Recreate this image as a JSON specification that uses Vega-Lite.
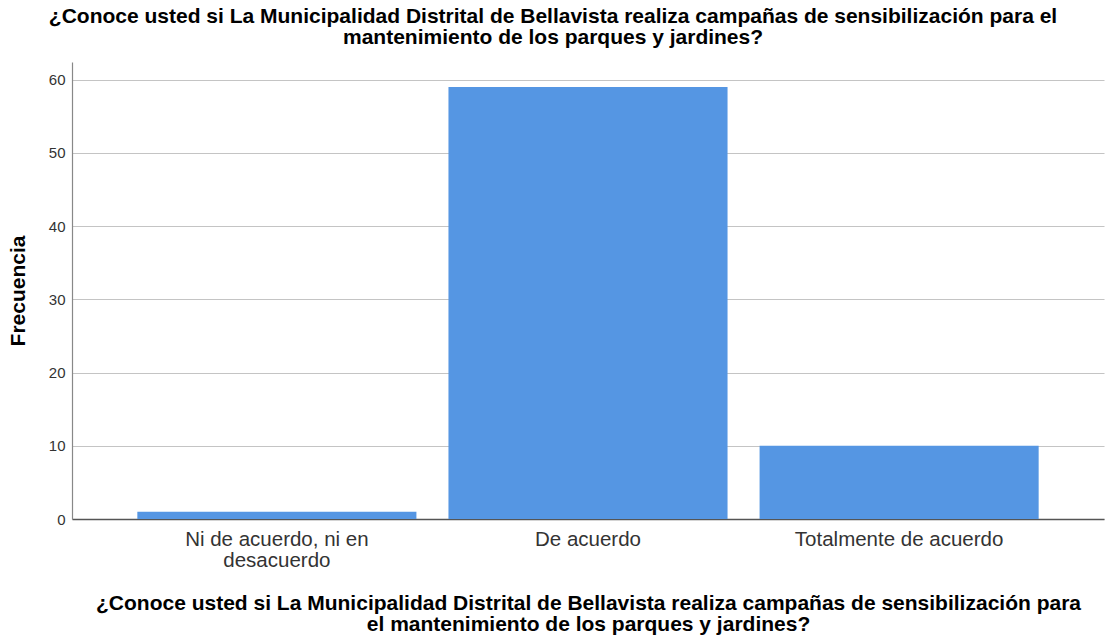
{
  "$schema": "https://vega.github.io/schema/vega-lite/v6.json",
  "width": 1032,
  "height": 457,
  "autosize": {"type": "none"},
  "padding": {"left": 72, "top": 62, "right": 2, "bottom": 120},
  "background": "white",
  "config": {"view": {"stroke": null}, "font": "Liberation Sans"},
  "title": {
    "text": ["¿Conoce usted si La Municipalidad  Distrital de Bellavista realiza campañas de sensibilización para el", "mantenimiento de los parques y jardines?"],
    "fontSize": 21,
    "fontWeight": "bold",
    "color": "#000000",
    "anchor": "middle",
    "dx": -35,
    "offset": 14,
    "lineHeight": 21
  },
  "data": {
    "values": [
      {"respuesta": "Ni de acuerdo, ni en desacuerdo", "frecuencia": 1},
      {"respuesta": "De acuerdo", "frecuencia": 59},
      {"respuesta": "Totalmente de acuerdo", "frecuencia": 10}
    ]
  },
  "mark": {"type": "bar", "color": "#5596E3"},
  "encoding": {
    "x": {
      "field": "respuesta",
      "type": "nominal",
      "sort": null,
      "scale": {"paddingInner": 0.103, "paddingOuter": 0.21},
      "axis": {
        "title": ["¿Conoce usted si La Municipalidad  Distrital de Bellavista realiza campañas de sensibilización para", "el mantenimiento de los parques y jardines?"],
        "titleFontSize": 21,
        "titleFontWeight": "bold",
        "titleColor": "#000000",
        "titleLineHeight": 21,
        "titlePadding": 22,
        "labelAngle": 0,
        "labelFontSize": 20.5,
        "labelColor": "#333333",
        "labelLineHeight": 21,
        "labelLimit": 400,
        "labelPadding": 10,
        "labelExpr": "datum.value == 'Ni de acuerdo, ni en desacuerdo' ? ['Ni de acuerdo, ni en', 'desacuerdo'] : datum.value",
        "ticks": false,
        "domainColor": "#555555",
        "domainWidth": 1.5
      }
    },
    "y": {
      "field": "frecuencia",
      "type": "quantitative",
      "scale": {"domain": [0, 62.4], "nice": false},
      "axis": {
        "title": "Frecuencia",
        "titleFontSize": 21,
        "titleFontWeight": "bold",
        "titleColor": "#000000",
        "titlePadding": 20,
        "values": [0, 10, 20, 30, 40, 50, 60],
        "labelFontSize": 15,
        "labelColor": "#333333",
        "labelPadding": 7,
        "ticks": false,
        "grid": true,
        "gridColor": "#C4C4C4",
        "gridWidth": 1.2,
        "domainColor": "#888888",
        "domainWidth": 1.2
      }
    }
  }
}
